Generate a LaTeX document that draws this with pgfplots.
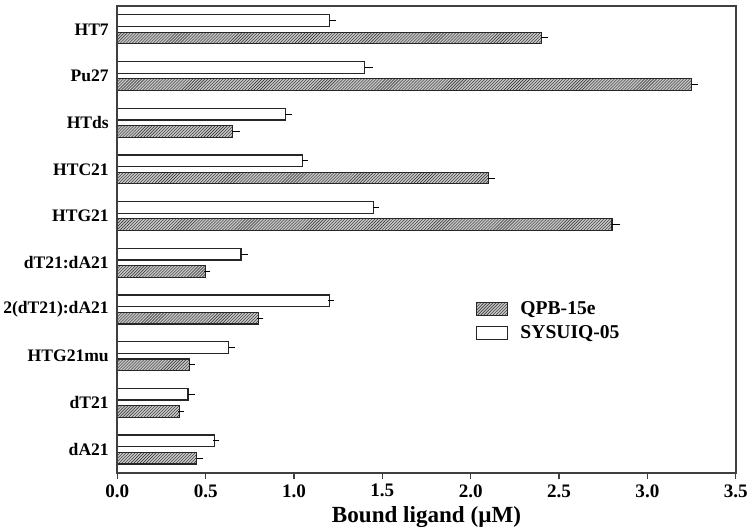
\documentclass[border=0pt]{standalone}
\usepackage{fontspec}
\setmainfont{Liberation Serif}
\usepackage{pgfplots}
\usepackage{pgfplotstable}
\pgfplotsset{compat=1.18}
\usetikzlibrary{patterns}

\pgfplotstableread{
y white werr hatch herr
0 0.55 0.010 0.45 0.020
1 0.40 0.020 0.35 0.010
2 0.63 0.020 0.41 0.010
3 1.20 0.010 0.80 0.010
4 0.70 0.020 0.50 0.010
5 1.45 0.015 2.80 0.030
6 1.05 0.010 2.10 0.020
7 0.95 0.020 0.65 0.030
8 1.40 0.030 3.25 0.020
9 1.20 0.020 2.40 0.020
}\data

\begin{document}
\begin{tikzpicture}
\begin{axis}[
  scale only axis,
  width=616pt, height=465pt,
  xbar, bar width=0.25,
  xmin=0, xmax=3.5, ymin=-0.5, ymax=9.5,
  axis line style={black!75, line width=2.2pt},
  xtick={0,0.5,1.0,1.5,2.0,2.5,3.0,3.5},
  xtick pos=bottom,
  tick align=outside,
  major tick length=6pt,
  xtick style={black!75, line width=1.5pt},
  /pgf/number format/fixed,
  /pgf/number format/fixed zerofill,
  /pgf/number format/precision=1,
  /pgf/number format/assume math mode=true,
  xticklabel style={font=\fontsize{19}{21}\selectfont\bfseries, yshift=-2pt},
  ytick={0,1,2,3,4,5,6,7,8,9},
  yticklabels={dA21,dT21,HTG21mu,2(dT21):dA21,dT21:dA21,HTG21,HTC21,HTds,Pu27,HT7},
  ytick style={draw=none},
  yticklabel style={font=\fontsize{17.5}{19}\selectfont\bfseries, xshift=1pt},
  xlabel={Bound ligand (µM)},
  xlabel style={font=\fontsize{23}{25}\selectfont\bfseries, yshift=-2pt},
  legend style={at={(0.575,0.375)}, anchor=north west, draw=none, fill=none,
    font=\fontsize{19.5}{21}\selectfont\bfseries, row sep=5pt,
    legend cell align=left,
    /tikz/every odd column/.append style={column sep=10pt}},
  legend image code/.code={\draw[#1] (0pt,-6.5pt) rectangle (31pt,6.5pt);},
  error bars/error bar style={line width=1pt, black},
  clip=false,
]
\addplot[draw=black!85, line width=1.2pt, preaction={fill=gray!45},
  pattern=north east lines, pattern color=black!85, bar shift=-0.185,
  error bars/.cd, x dir=plus, x explicit, error mark options={mark size=3pt, line width=1pt, black}]
  table[x=hatch, y=y, x error=herr] {\data};
\addlegendentry{QPB-15e}
\addplot[draw=black!85, line width=1.2pt, fill=white, bar shift=0.185,
  error bars/.cd, x dir=plus, x explicit, error mark options={mark size=3pt, line width=1pt, black}]
  table[x=white, y=y, x error=werr] {\data};
\addlegendentry{SYSUIQ-05}
\draw[black!75, line width=2.2pt] (rel axis cs:0,0) rectangle (rel axis cs:1,1);
\end{axis}
\path (current axis.north east) ++(6pt,6pt);
\end{tikzpicture}
\end{document}
